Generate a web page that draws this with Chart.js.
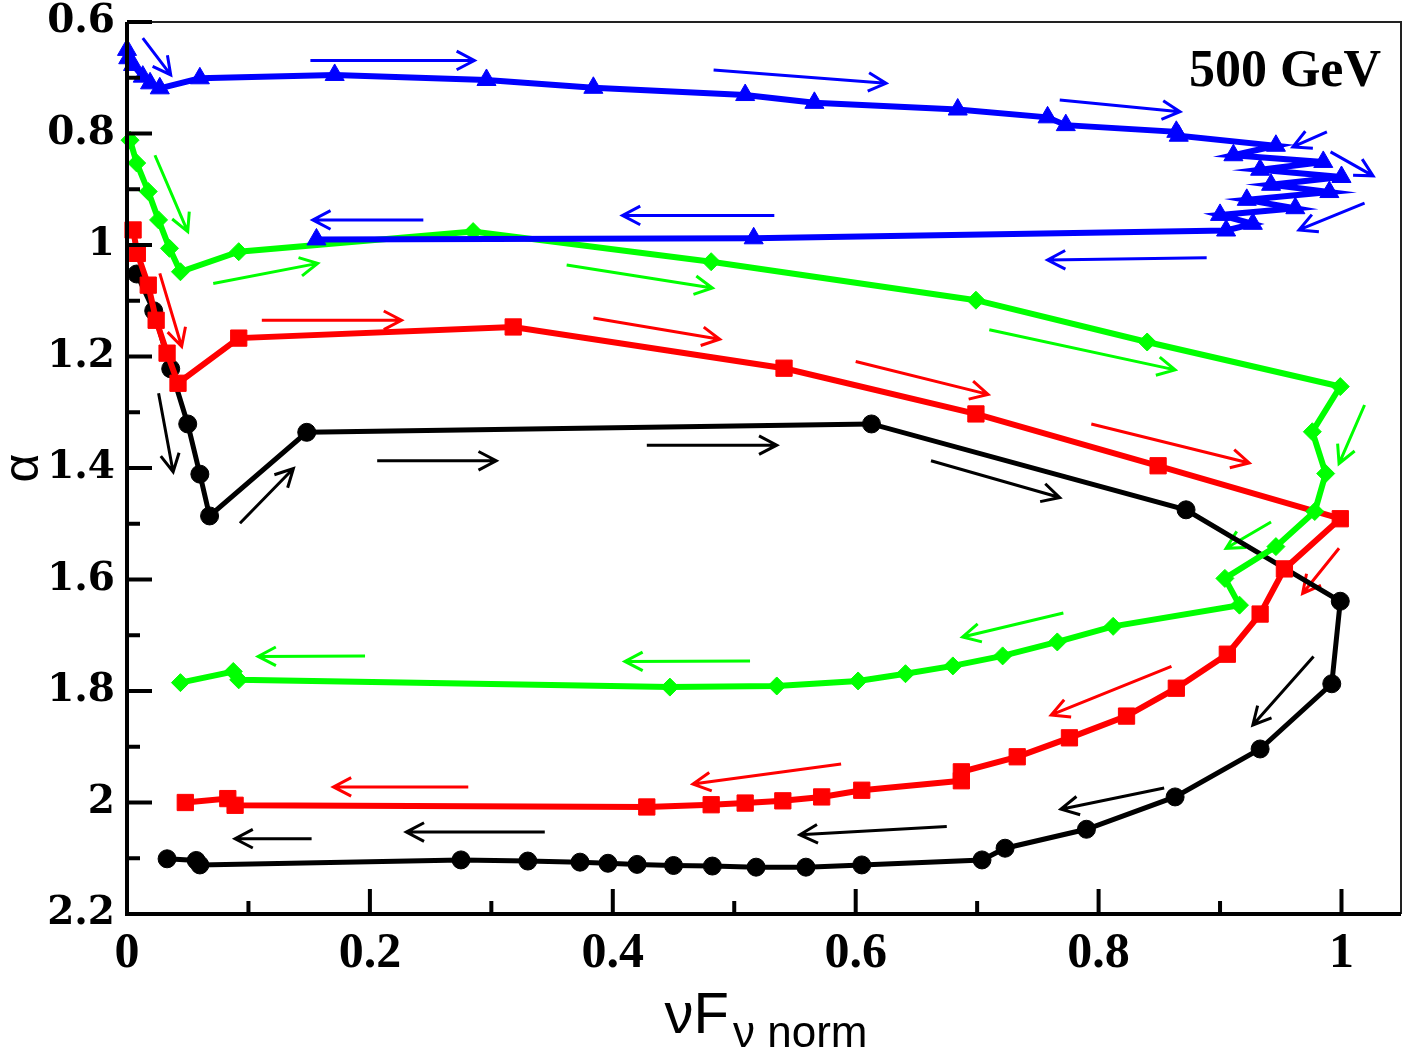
<!DOCTYPE html>
<html>
<head>
<meta charset="utf-8">
<script src="https://cdn.jsdelivr.net/npm/chart.js@4"></script>
<style>
  body { margin: 0; background: #fff; }
  canvas { display: block; }
</style>
</head>
<body>
<canvas id="chart" width="1407" height="1053"></canvas>
<script>
// tick values
const xTicks = [0, 0.2, 0.4, 0.6, 0.8, 1];
const xMinorTicks = [0.1, 0.3, 0.5, 0.7, 0.9];
const yTicks = [0.6, 0.8, 1, 1.2, 1.4, 1.6, 1.8, 2, 2.2];
const yMinorTicks = [0.7, 0.9, 1.1, 1.3, 1.5, 1.7, 1.9, 2.1];

// black circles
const blackX = [0.008, 0.022, 0.036, 0.050, 0.060, 0.068, 0.148, 0.613, 0.872, 0.999, 0.992, 0.933, 0.863, 0.790, 0.723, 0.704, 0.605, 0.559, 0.518, 0.482, 0.450, 0.420, 0.396, 0.373, 0.330, 0.275, 0.060, 0.057, 0.033];
const blackY = [1.052, 1.118, 1.222, 1.321, 1.411, 1.486, 1.336, 1.321, 1.475, 1.639, 1.787, 1.904, 1.990, 2.048, 2.082, 2.103, 2.112, 2.116, 2.116, 2.114, 2.113, 2.111, 2.109, 2.107, 2.105, 2.103, 2.112, 2.104, 2.101];

// red squares
const redX = [0.005, 0.0085, 0.0175, 0.024, 0.033, 0.042, 0.092, 0.318, 0.541, 0.699, 0.849, 0.999, 0.953, 0.933, 0.906, 0.864, 0.823, 0.776, 0.733, 0.687, 0.687, 0.605, 0.572, 0.540, 0.509, 0.481, 0.428, 0.089, 0.083, 0.048];
const redY = [0.973, 1.015, 1.072, 1.135, 1.194, 1.248, 1.167, 1.147, 1.221, 1.303, 1.396, 1.491, 1.581, 1.662, 1.734, 1.795, 1.845, 1.884, 1.918, 1.945, 1.961, 1.978, 1.990, 1.997, 2.001, 2.004, 2.008, 2.005, 1.993, 2.000];

// green diamonds
const greenX = [0.0025, 0.008, 0.0175, 0.026, 0.035, 0.044, 0.092, 0.285, 0.481, 0.699, 0.840, 0.999, 0.976, 0.987, 0.978, 0.946, 0.904, 0.916, 0.812, 0.766, 0.721, 0.680, 0.641, 0.602, 0.535, 0.447, 0.092, 0.0875, 0.044];
const greenY = [0.812, 0.853, 0.904, 0.955, 1.006, 1.048, 1.012, 0.976, 1.030, 1.099, 1.174, 1.254, 1.335, 1.410, 1.478, 1.541, 1.598, 1.646, 1.684, 1.712, 1.737, 1.755, 1.769, 1.782, 1.791, 1.793, 1.780, 1.765, 1.785];

// blue triangles
const blueX = [0.000, 0.001, 0.005, 0.013, 0.019, 0.027, 0.060, 0.171, 0.296, 0.384, 0.509, 0.566, 0.684, 0.758, 0.773, 0.864, 0.866, 0.946, 0.911, 0.985, 0.933, 1.000, 0.942, 0.990, 0.922, 0.962, 0.900, 0.927, 0.905, 0.516, 0.156];
const blueY = [0.650, 0.665, 0.677, 0.698, 0.710, 0.719, 0.701, 0.695, 0.704, 0.718, 0.731, 0.745, 0.757, 0.771, 0.785, 0.797, 0.804, 0.822, 0.839, 0.851, 0.865, 0.878, 0.892, 0.905, 0.919, 0.934, 0.946, 0.962, 0.974, 0.988, 0.990];

// direction arrows [x1, y1, x2, y2]
const blueArrows = [
  [0.013, 0.629, 0.036, 0.695], [0.151, 0.669, 0.286, 0.669], [0.483, 0.686, 0.625, 0.710],
  [0.768, 0.740, 0.867, 0.761], [0.988, 0.797, 0.960, 0.824], [0.991, 0.833, 1.026, 0.876],
  [1.019, 0.925, 0.965, 0.973], [0.244, 0.955, 0.153, 0.955], [0.533, 0.947, 0.408, 0.947],
  [0.889, 1.023, 0.758, 1.027]
];
const greenArrows = [
  [0.023, 0.839, 0.050, 0.976], [0.071, 1.069, 0.157, 1.033], [0.362, 1.036, 0.482, 1.077],
  [0.710, 1.152, 0.863, 1.224], [1.019, 1.287, 0.998, 1.392], [0.942, 1.497, 0.905, 1.544],
  [0.771, 1.660, 0.688, 1.703], [0.196, 1.737, 0.108, 1.738], [0.513, 1.746, 0.410, 1.747]
];
const redArrows = [
  [0.027, 1.051, 0.045, 1.182], [0.111, 1.135, 0.226, 1.135], [0.384, 1.131, 0.488, 1.169],
  [0.600, 1.209, 0.709, 1.268], [0.794, 1.321, 0.924, 1.391], [0.998, 1.544, 0.968, 1.625],
  [0.860, 1.756, 0.761, 1.843], [0.588, 1.931, 0.466, 1.967], [0.281, 1.972, 0.170, 1.972]
];
const blackArrows = [
  [0.026, 1.266, 0.038, 1.407], [0.093, 1.499, 0.137, 1.401], [0.206, 1.387, 0.304, 1.387],
  [0.428, 1.359, 0.535, 1.359], [0.662, 1.387, 0.768, 1.453], [0.977, 1.738, 0.927, 1.861],
  [0.854, 1.974, 0.769, 2.012], [0.675, 2.043, 0.554, 2.058], [0.344, 2.053, 0.230, 2.053],
  [0.152, 2.065, 0.089, 2.065]
];

const toPoints = (xs, ys) => xs.map((x, i) => ({ x: x, y: ys[i] }));

function series(label, xs, ys, color, style, radius, width) {
  return {
    label: label,
    data: toPoints(xs, ys),
    showLine: true,
    borderColor: color,
    backgroundColor: color,
    borderWidth: width,
    pointStyle: style,
    pointRadius: radius,
    pointBorderWidth: 1,
    pointBorderColor: color,
    pointBackgroundColor: color,
    tension: 0,
    clip: false,
  };
}

function drawArrow(ctx, xs, ys, a, color) {
  const x1 = xs.getPixelForValue(a[0]), y1 = ys.getPixelForValue(a[1]);
  const x2 = xs.getPixelForValue(a[2]), y2 = ys.getPixelForValue(a[3]);
  const ang = Math.atan2(y2 - y1, x2 - x1);
  const head = 20, spread = Math.PI / 6.5;
  ctx.strokeStyle = color;
  ctx.lineWidth = 3;
  ctx.lineCap = "butt";
  ctx.beginPath();
  ctx.moveTo(x1, y1);
  ctx.lineTo(x2, y2);
  ctx.moveTo(x2 - head * Math.cos(ang - spread), y2 - head * Math.sin(ang - spread));
  ctx.lineTo(x2, y2);
  ctx.lineTo(x2 - head * Math.cos(ang + spread), y2 - head * Math.sin(ang + spread));
  ctx.stroke();
}

const decorations = {
  id: "decorations",
  beforeDatasetsDraw(chart) {
    const ctx = chart.ctx;
    const xs = chart.scales.x, ys = chart.scales.y;
    ctx.save();
    blueArrows.forEach((a) => drawArrow(ctx, xs, ys, a, "#0000ff"));
    greenArrows.forEach((a) => drawArrow(ctx, xs, ys, a, "#00ff00"));
    redArrows.forEach((a) => drawArrow(ctx, xs, ys, a, "#ff0000"));
    blackArrows.forEach((a) => drawArrow(ctx, xs, ys, a, "#000000"));
    ctx.restore();
  },
  afterDraw(chart) {
    const ctx = chart.ctx;
    const area = chart.chartArea;
    const xs = chart.scales.x, ys = chart.scales.y;
    ctx.save();

    // frame
    ctx.strokeStyle = "#222";
    ctx.lineWidth = 2;
    ctx.beginPath();
    ctx.moveTo(area.left, area.top);
    ctx.lineTo(area.right, area.top);
    ctx.lineTo(area.right, area.bottom);
    ctx.stroke();
    ctx.strokeStyle = "#000";
    ctx.lineWidth = 4;
    ctx.beginPath();
    ctx.moveTo(area.left, area.top);
    ctx.lineTo(area.left, area.bottom);
    ctx.lineTo(area.right, area.bottom);
    ctx.stroke();

    // inward ticks
    ctx.lineWidth = 4;
    ctx.beginPath();
    xTicks.forEach((v) => {
      const p = xs.getPixelForValue(v);
      ctx.moveTo(p, area.bottom);
      ctx.lineTo(p, area.bottom - 25);
    });
    xMinorTicks.forEach((v) => {
      const p = xs.getPixelForValue(v);
      ctx.moveTo(p, area.bottom);
      ctx.lineTo(p, area.bottom - 13);
    });
    yTicks.forEach((v) => {
      const p = ys.getPixelForValue(v);
      ctx.moveTo(area.left, p);
      ctx.lineTo(area.left + 25, p);
    });
    yMinorTicks.forEach((v) => {
      const p = ys.getPixelForValue(v);
      ctx.moveTo(area.left, p);
      ctx.lineTo(area.left + 13, p);
    });
    ctx.stroke();

    // energy label
    ctx.fillStyle = "#000";
    ctx.font = 'bold 52px "Liberation Serif"';
    ctx.textAlign = "right";
    ctx.textBaseline = "alphabetic";
    ctx.fillText("500 GeV", 1381, 86);

    // y title
    ctx.save();
    ctx.translate(24, (area.top + area.bottom) / 2);
    ctx.rotate(-Math.PI / 2);
    ctx.font = '50px "Liberation Sans"';
    ctx.textAlign = "center";
    ctx.textBaseline = "middle";
    ctx.fillText("\u03b1", 0, 0);
    ctx.restore();

    // x title with subscript
    const main = "\u03bdF", sub = "\u03bd norm";
    ctx.font = '58px "Liberation Sans"';
    const wMain = ctx.measureText(main).width;
    ctx.font = '44px "Liberation Sans"';
    const wSub = ctx.measureText(sub).width;
    const cx = (area.left + area.right) / 2;
    const start = cx - (wMain + wSub) / 2;
    ctx.textAlign = "left";
    ctx.font = '58px "Liberation Sans"';
    ctx.fillText(main, start, 1033);
    ctx.font = '44px "Liberation Sans"';
    ctx.fillText(sub, start + wMain + 4, 1047);

    ctx.restore();
  },
};

new Chart(document.getElementById("chart"), {
  type: "scatter",
  data: {
    datasets: [
      series("blue", blueX, blueY, "#0000ff", "triangle", 11, 6),
      series("green", greenX, greenY, "#00ff00", "rectRot", 9, 6),
      series("red", redX, redY, "#ff0000", "rect", 11.5, 6),
      series("black", blackX, blackY, "#000000", "circle", 9, 5),
    ],
  },
  options: {
    responsive: false,
    animation: false,
    layout: { autoPadding: false, padding: { top: 22, right: 6, left: 0, bottom: 0 } },
    plugins: {
      legend: { display: false },
      tooltip: { enabled: false },
    },
    scales: {
      x: {
        type: "linear",
        min: 0,
        max: 1.049,
        afterBuildTicks: (scale) => {
          scale.ticks = xTicks.map((v) => ({ value: v }));
        },
        afterFit: (scale) => {
          scale.height = 139;
          scale.paddingLeft = 0;
          scale.paddingRight = 0;
        },
        grid: { display: false, drawTicks: false },
        border: { display: false },
        ticks: {
          autoSkip: false,
          maxRotation: 0,
          padding: 10,
          color: "#000",
          font: { family: "Liberation Serif", weight: "bold", size: 50 },
          callback: (v) => String(+v.toFixed(1)),
        },
      },
      y: {
        type: "linear",
        reverse: true,
        min: 0.6,
        max: 2.2,
        afterBuildTicks: (scale) => {
          scale.ticks = yTicks.map((v) => ({ value: v }));
        },
        afterFit: (scale) => {
          scale.width = 127;
          scale.paddingTop = 0;
          scale.paddingBottom = 0;
        },
        grid: { display: false, drawTicks: false },
        border: { display: false },
        ticks: {
          autoSkip: false,
          padding: 12,
          color: "#000",
          font: { family: "DejaVu Serif", weight: "bold", size: 39 },
          callback: (v) => String(+v.toFixed(1)),
        },
      },
    },
  },
  plugins: [decorations],
});
</script>
</body>
</html>
